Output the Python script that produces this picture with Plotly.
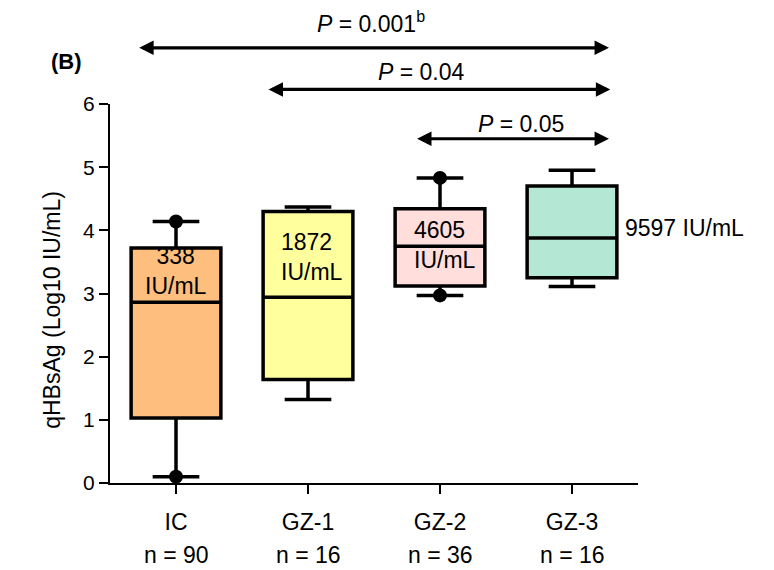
import plotly.graph_objects as go

# ---- data ----
categories = ["IC", "GZ-1", "GZ-2", "GZ-3"]
n_labels = ["n = 90", "n = 16", "n = 36", "n = 16"]
q1 = [1.03, 1.64, 3.12, 3.25]
median = [2.86, 2.94, 3.75, 3.88]
q3 = [3.72, 4.30, 4.34, 4.70]
lower = [0.10, 1.32, 2.97, 3.11]
upper = [4.14, 4.37, 4.83, 4.95]
fills = ["#FDBE7E", "#FFFF9E", "#FFDEDC", "#B4E8D5"]

# outlier dots (category index, value)
dot_x = [0, 0, 2, 2]
dot_y = [4.14, 0.10, 4.83, 2.97]

# median labels
med_text = ["338<br>IU/mL", "1872<br>IU/mL", "4605<br>IU/mL", "9597 IU/mL"]
med_tx = [0.0, 0.78, 1.79, 3.39]
med_ty = [3.36, 3.575, 3.77, 4.03]
med_anchor = ["center", "left", "left", "left"]

# comparisons: (x_start, x_end, arrow_y, text_x, text_y, text) ; y in log10 units
comparisons = [
    (-0.29, 3.28, 6.89, 1.48, 7.30, "<i>P</i> = 0.001<sup>b</sup>"),
    (0.69, 3.29, 6.23, 1.86, 6.51, "<i>P</i> = 0.04"),
    (1.815, 3.28, 5.45, 2.61, 5.69, "<i>P</i> = 0.05"),
]

FONT = "Liberation Sans, Arial, sans-serif"
Y_MAX = 6.0
# page body has an 8px margin: figure occupies 766x562 of the 774x570 window
FIG_W, FIG_H = 766, 562
M_L, M_R, M_T, M_B = 102, 136, 96, 87
PLOT_W = FIG_W - M_L - M_R

fig = go.Figure()
for i, c in enumerate(categories):
    fig.add_trace(go.Box(
        x=[i], q1=[q1[i]], median=[median[i]], q3=[q3[i]],
        lowerfence=[lower[i]], upperfence=[upper[i]],
        width=0.68, whiskerwidth=0.52, boxpoints=False,
        fillcolor=fills[i], line=dict(color="black", width=3.5),
        name=c, showlegend=False, hoverinfo="skip",
    ))

fig.add_trace(go.Scatter(
    x=dot_x, y=dot_y, mode="markers",
    marker=dict(color="black", size=14),
    cliponaxis=False, showlegend=False, hoverinfo="skip",
))

annotations = []
for t, x, y, a in zip(med_text, med_tx, med_ty, med_anchor):
    annotations.append(dict(x=x, y=y, xref="x", yref="y", text=t,
                            showarrow=False, xanchor=a, align=a,
                            font=dict(size=23, color="black", family=FONT)))

for xs, xe, ay, tx, ty, t in comparisons:
    annotations.append(dict(x=xe, y=ay / Y_MAX, ax=xs, ay=0, xref="x", yref="paper",
                            axref="x", ayref="pixel", text="", showarrow=True,
                            arrowside="end+start", arrowhead=2, startarrowhead=2,
                            arrowsize=0.9, startarrowsize=0.9, arrowwidth=3.2,
                            arrowcolor="black", standoff=0, startstandoff=0))
    annotations.append(dict(x=tx, y=ty / Y_MAX, xref="x", yref="paper", text=t,
                            showarrow=False, xanchor="center", yanchor="middle",
                            font=dict(size=23, color="black", family=FONT)))

for i, n in enumerate(n_labels):
    annotations.append(dict(x=i, y=0, xref="x", yref="paper", text=n,
                            showarrow=False, yanchor="middle", yshift=-72,
                            font=dict(size=23, color="black", family=FONT)))

annotations.append(dict(x=(66 - 110) / PLOT_W, y=1.111, xref="paper", yref="paper",
                        text="<b>(B)</b>", showarrow=False, xanchor="center",
                        yanchor="middle",
                        font=dict(size=22, color="black", family=FONT)))
annotations.append(dict(x=(52 - 110) / PLOT_W, y=0.457, xref="paper", yref="paper",
                        text="qHBsAg (Log10 IU/mL)", textangle=-90,
                        xanchor="center", yanchor="middle",
                        showarrow=False, font=dict(size=23, color="black", family=FONT)))

fig.update_layout(
    width=FIG_W, height=FIG_H,
    margin=dict(l=M_L, r=M_R, t=M_T, b=M_B, autoexpand=False),
    paper_bgcolor="white", plot_bgcolor="white",
    font=dict(family=FONT, color="black"),
    annotations=annotations,
    xaxis=dict(range=[-0.5, 3.5], tickvals=[0, 1, 2, 3], ticktext=categories,
               showline=True, linecolor="black", linewidth=2,
               ticks="outside", ticklen=9, tickwidth=2, tickcolor="black",
               showgrid=False, zeroline=False, automargin=False,
               ticklabelstandoff=8,
               tickfont=dict(size=23, color="black", family=FONT)),
    yaxis=dict(range=[0, Y_MAX], tickvals=[0, 1, 2, 3, 4, 5, 6],
               showline=True, linecolor="black", linewidth=2,
               ticks="outside", ticklen=9, tickwidth=2, tickcolor="black",
               showgrid=False, zeroline=False, automargin=False,
               tickfont=dict(size=21, color="black", family=FONT)),
)

fig.write_html("out.html")
